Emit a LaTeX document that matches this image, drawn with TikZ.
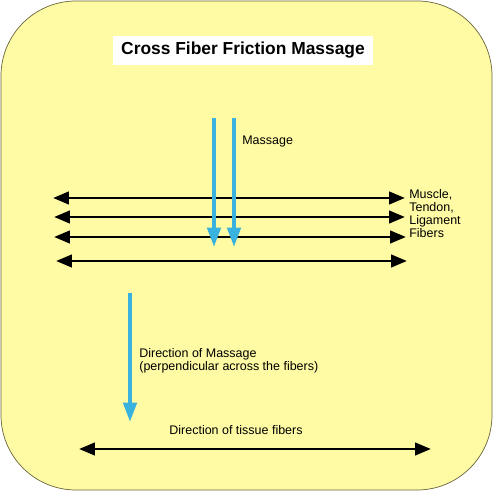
\documentclass[tikz,border=0pt]{standalone}
\usepackage{fontspec}
\setmainfont{Liberation Sans}
\usetikzlibrary{arrows.meta}
\definecolor{pad}{RGB}{255,251,164}
\definecolor{padrand}{RGB}{105,100,60}
\definecolor{massageblau}{RGB}{58,178,222}

\tikzset{
    faser/.style={line width=1.7pt, black, {Triangle[length=9pt,width=7pt]}-{Triangle[length=9pt,width=7pt]}},
    strich/.style={line width=2.3pt, massageblau, -{Triangle[length=11pt,width=7.5pt]}},
    beschriftung/.style={font=\fontsize{7.1}{7.5}\selectfont, inner sep=0pt, align=left}
}

\begin{document}
\begin{tikzpicture}[x=0.02cm, y=-0.02cm]

    \useasboundingbox (0,0) rectangle (500,492);
    \draw[fill=pad, draw=padrand, thin, rounded corners=1.5cm] (1,1) rectangle (492,490);

    \node[fill=white, minimum width=5.2cm, minimum height=0.58cm, font=\bfseries\fontsize{9.9}{12}\selectfont] (titel) at (243,50.5) {Cross Fiber Friction Massage};

    % Fasern
    \foreach \i/\y/\a/\b in {1/198/53/405, 2/217/54/405, 3/237/54/406, 4/261/56/407} {
        \coordinate (f\i l) at (\a,\y);
        \coordinate (f\i r) at (\b,\y);
        \draw[faser] (f\i l) -- (f\i r);
    }
    \node[beschriftung, anchor=north west] (fasertext) at (409,189) {Muscle,\\Tendon,\\Ligament\\Fibers};

    % Massage
    \coordinate (m1o) at (214,118);
    \coordinate (m1u) at (214,247);
    \coordinate (m2o) at (234,118);
    \coordinate (m2u) at (234,247);
    \draw[strich] (m1o) -- (m1u);
    \draw[strich] (m2o) -- (m2u);
    \node[beschriftung, anchor=west] (massage) at (242,142) {Massage};

    % Richtungen
    \coordinate (ro) at (130,293);
    \coordinate (ru) at (130,422);
    \draw[strich] (ro) -- (ru);
    \node[beschriftung, anchor=west] (richtung) at (139,360.5) {Direction of Massage\\(perpendicular across the fibers)};

    \coordinate (gl) at (79,449);
    \coordinate (gr) at (431,449);
    \draw[faser] (gl) -- (gr);
    \node[beschriftung] (gewebe) at (236,430) {Direction of tissue fibers};

\end{tikzpicture}
\end{document}
